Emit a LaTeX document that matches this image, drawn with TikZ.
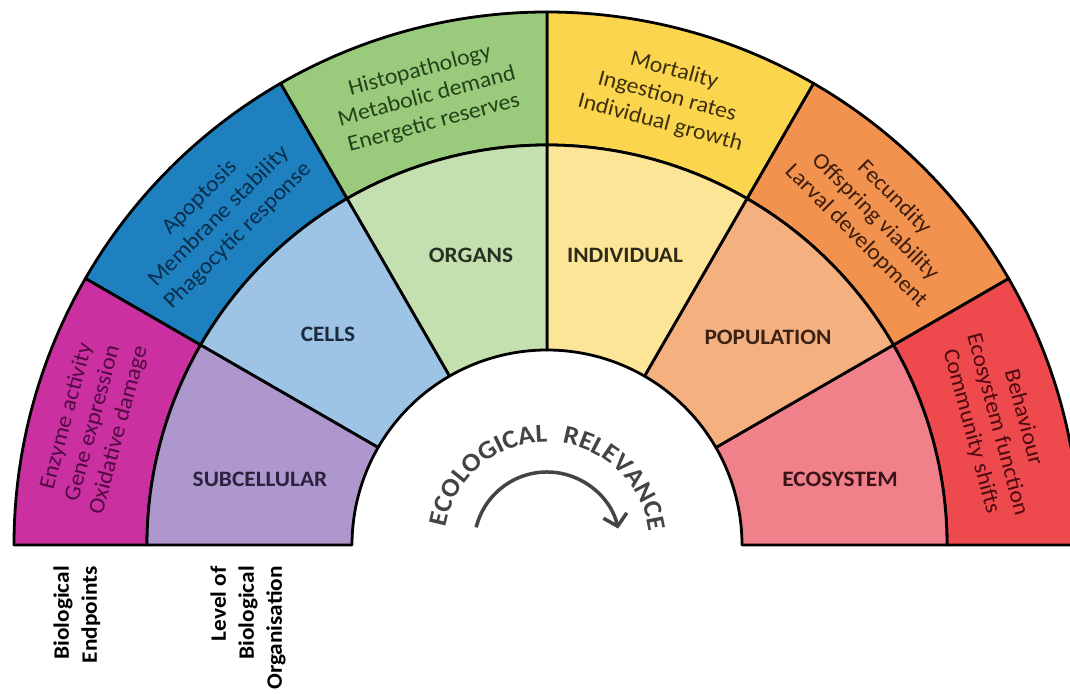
\documentclass[tikz,border=0pt]{standalone}
\usepackage{fontspec}
\setmainfont{Carlito}[FakeStretch=1.06]
\usetikzlibrary{decorations.text,arrows.meta}
% outer ring colours (0-30 deg first)
\definecolor{oA}{HTML}{EE4A4E}
\definecolor{oB}{HTML}{F1924F}
\definecolor{oC}{HTML}{FBD54E}
\definecolor{oD}{HTML}{9ACB7C}
\definecolor{oE}{HTML}{1E80BF}
\definecolor{oF}{HTML}{CB30A0}
% middle ring colours
\definecolor{mA}{HTML}{F0808A}
\definecolor{mB}{HTML}{F4B17F}
\definecolor{mC}{HTML}{FDE598}
\definecolor{mD}{HTML}{C4E0B0}
\definecolor{mE}{HTML}{9DC3E5}
\definecolor{mF}{HTML}{AD97CC}
% text colours
\definecolor{tA}{HTML}{4E0A10}
\definecolor{tB}{HTML}{3E1E0E}
\definecolor{tC}{HTML}{3E300E}
\definecolor{tD}{HTML}{234218}
\definecolor{tE}{HTML}{0A2F4C}
\definecolor{tF}{HTML}{520A44}
\definecolor{lA}{HTML}{3A1418}
\definecolor{lB}{HTML}{3A2214}
\definecolor{lC}{HTML}{2F2A18}
\definecolor{lD}{HTML}{253222}
\definecolor{lE}{HTML}{1C2A3E}
\definecolor{lF}{HTML}{2D2140}
\definecolor{ecog}{HTML}{444444}
\begin{document}
\begin{tikzpicture}[x=1pt,y=1pt,
  border/.style={draw=black,line width=2.8pt,line join=round},
  otext/.style={font=\fontsize{22.5}{27}\selectfont,align=center,text=#1,inner sep=0pt},
  mtext/.style={font=\bfseries\fontsize{22}{26}\selectfont,text=#1,inner sep=0pt},
  btext/.style={font=\bfseries\fontsize{22}{28}\selectfont,text=black,rotate=90,anchor=east,align=right,inner sep=0pt},
  arrowc/.style={draw=ecog,line width=3.5pt,-{Straight Barb[length=11pt,width=24pt,line width=3.5pt]}}]
\useasboundingbox (0,0) rectangle (1070,693);
\fill[white] (0,0) rectangle (1070,693);
\coordinate (C) at (547,148);
\begin{scope}
\clip (0,0) rectangle (1070,693);
\foreach \a/\oc/\mc in {0/oA/mA,30/oB/mB,60/oC/mC,90/oD/mD,120/oE/mE,150/oF/mF}{
  \path[border,fill=\oc] ([shift={(\a:400)}]C) -- ([shift={(\a:533)}]C)
     arc[start angle=\a,end angle={\a+30},radius=533]
     -- ([shift={({\a+30}:400)}]C)
     arc[start angle={\a+30},end angle=\a,radius=400] -- cycle;
  \path[border,fill=\mc] ([shift={(\a:195)}]C) -- ([shift={(\a:400)}]C)
     arc[start angle=\a,end angle={\a+30},radius=400]
     -- ([shift={({\a+30}:195)}]C)
     arc[start angle={\a+30},end angle=\a,radius=195] -- cycle;
}
\end{scope}
% outer ring texts
\node[otext=tA,rotate=-75] (epA) at ([shift={(15:466)}]C) {Behaviour\\Ecosystem function\\Community shifts};
\node[otext=tB,rotate=-45] (epB) at ([shift={(45:464)}]C) {Fecundity\\Offspring viability\\Larval development};
\node[otext=tC,rotate=-15] (epC) at ([shift={(75:464)}]C) {Mortality\\Ingestion rates\\Individual growth};
\node[otext=tD,rotate=15] (epD) at ([shift={(105:464)}]C) {Histopathology\\Metabolic demand\\Energetic reserves};
\node[otext=tE,rotate=45] (epE) at ([shift={(135:464)}]C) {Apoptosis\\Membrane stability\\Phagocytic response};
\node[otext=tF,rotate=75] (epF) at ([shift={(165:470)}]C) {Enzyme activity\\Gene expression\\Oxidative damage};
% middle ring labels
\node[mtext=lA] (lvA) at (840,214) {ECOSYSTEM};
\node[mtext=lB] (lvB) at (768,356) {POPULATION};
\node[mtext=lC] (lvC) at (625,438) {INDIVIDUAL};
\node[mtext=lD] (lvD) at (471,438) {ORGANS};
\node[mtext=lE] (lvE) at (328,359) {CELLS};
\node[mtext=lF] (lvF) at (260,214) {SUBCELLULAR};
% ecological relevance
\path[decorate,decoration={text along path,text align=center,text color=ecog,
  text={|\bfseries\fontsize{26}{26}\selectfont|ECOLOGICAL}}]
  ([shift={(172:103)}]C) arc[start angle=172,end angle=88,radius=103];
\path[decorate,decoration={text along path,text align=center,text color=ecog,
  text={|\bfseries\fontsize{26}{26}\selectfont|RELEVANCE}}]
  ([shift={(84:103)}]C) arc[start angle=84,end angle=5,radius=103];
\coordinate (arS) at ([shift={(166:73)}]C);
\draw[arrowc] (arS) arc[start angle=166,end angle=13,radius=73];
% bottom labels
\node[btext] (bioEnd) at (77,127) {Biological\\Endpoints};
\node[btext] (lvlOrg) at (248,127) {Level of\\Biological\\Organisation};
\end{tikzpicture}
\end{document}
